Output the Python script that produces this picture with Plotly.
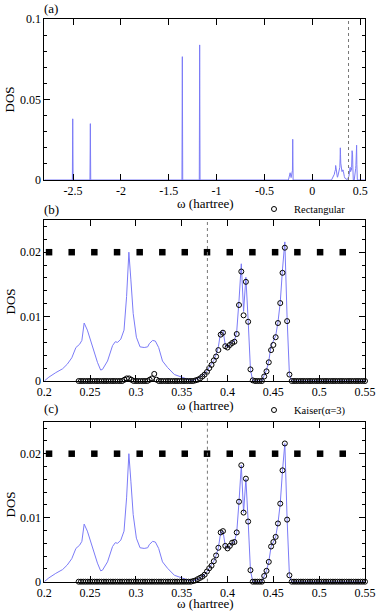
import plotly.graph_objects as go

# ---------- data ----------

# Fermi level (dotted line), hartree
fermi_level = 0.378

# panel (a): core-level spikes below the valence region
spike_omega = [-2.80, -2.507, -2.503, -2.499, -2.323, -2.319, -2.315,
               -1.362, -1.358, -1.354, -1.181, -1.177, -1.173,
               -0.250, -0.232, -0.222, -0.208, -0.205, -0.201]
spike_dos = [0.0, 0.0, 0.0380, 0.0, 0.0, 0.0350, 0.0,
             0.0, 0.0766, 0.0, 0.0, 0.0839, 0.0,
             0.0, 0.0045, 0.0015, 0.0060, 0.0253, 0.0]

# exact DOS (blue line), valence / conduction region
omega_exact = [0.2000, 0.2050, 0.2125, 0.2200, 0.2250, 0.2300, 0.2345, 0.2385, 0.2410, 0.2435,
               0.2470, 0.2525, 0.2580, 0.2615, 0.2635, 0.2690, 0.2745, 0.2775, 0.2800, 0.2835,
               0.2870, 0.2898, 0.2923, 0.2945, 0.2970, 0.3005, 0.3045, 0.3090, 0.3128, 0.3146,
               0.3182, 0.3212, 0.3248, 0.3290, 0.3345, 0.3420, 0.3495, 0.3550, 0.3600, 0.3625,
               0.3650, 0.3675, 0.3700, 0.3725, 0.3750, 0.3775, 0.3800, 0.3825, 0.3850, 0.3875,
               0.3900, 0.3925, 0.3950, 0.3975, 0.4000, 0.4025, 0.4050, 0.4075, 0.4100, 0.4125,
               0.4150, 0.4175, 0.4200, 0.4225, 0.4250, 0.4275, 0.4375, 0.4400, 0.4425, 0.4450,
               0.4475, 0.4500, 0.4525, 0.4550, 0.4575, 0.4600, 0.4625, 0.4650, 0.4675, 0.4700,
               0.5500]
dos_exact = [0.0000, 0.0006, 0.0013, 0.0019, 0.0026, 0.0036, 0.0052, 0.0057, 0.0063, 0.0090,
             0.0079, 0.0052, 0.0029, 0.0017, 0.0018, 0.0031, 0.0055, 0.0061, 0.0060, 0.0065,
             0.0079, 0.0131, 0.0200, 0.0157, 0.0105, 0.0068, 0.0053, 0.0052, 0.0053, 0.0058,
             0.0063, 0.0062, 0.0052, 0.0031, 0.0021, 0.0010, 0.0006, 0.0003, 0.0001, 0.0001,
             0.0002, 0.0004, 0.0006, 0.0008, 0.0011, 0.0016, 0.0021, 0.0025, 0.0032, 0.0041,
             0.0053, 0.0077, 0.0079, 0.0056, 0.0052, 0.0056, 0.0061, 0.0062, 0.0077, 0.0125,
             0.0182, 0.0108, 0.0161, 0.0094, 0.0018, 0.0000, 0.0000, 0.0009, 0.0017, 0.0031,
             0.0055, 0.0062, 0.0070, 0.0091, 0.0122, 0.0174, 0.0216, 0.0097, 0.0010, 0.0000,
             0.0000]

# sampling frequencies (black squares)
square_omega = [0.2052, 0.2299, 0.2546, 0.2794, 0.3041, 0.3288, 0.3533, 0.3776,
                0.4024, 0.4271, 0.4519, 0.4762, 0.5010, 0.5257, 0.5504]
square_dos = [0.02, 0.02, 0.02, 0.02, 0.02, 0.02, 0.02, 0.02,
              0.02, 0.02, 0.02, 0.02, 0.02, 0.02, 0.02]

# reconstructed DOS (open circles)
circ_omega = [0.2375, 0.2400, 0.2425, 0.2450, 0.2475, 0.2500, 0.2525, 0.2550, 0.2575, 0.2600,
              0.2625, 0.2650, 0.2675, 0.2700, 0.2725, 0.2750, 0.2775, 0.2800, 0.2825, 0.2850,
              0.2875, 0.2900, 0.2925, 0.2950, 0.2975, 0.3000, 0.3025, 0.3050, 0.3075, 0.3100,
              0.3125, 0.3150, 0.3175, 0.3200, 0.3225, 0.3250, 0.3275, 0.3300, 0.3325, 0.3350,
              0.3375, 0.3400, 0.3425, 0.3450, 0.3475, 0.3500, 0.3525, 0.3550, 0.3575, 0.3600,
              0.3625, 0.3650, 0.3675, 0.3700, 0.3725, 0.3750, 0.3775, 0.3800, 0.3825, 0.3850,
              0.3875, 0.3900, 0.3925, 0.3950, 0.3975, 0.4000, 0.4025, 0.4050, 0.4075, 0.4100,
              0.4125, 0.4150, 0.4175, 0.4200, 0.4225, 0.4250, 0.4275, 0.4300, 0.4325, 0.4350,
              0.4375, 0.4400, 0.4425, 0.4450, 0.4475, 0.4500, 0.4525, 0.4550, 0.4575, 0.4600,
              0.4625, 0.4650, 0.4675, 0.4700, 0.4725, 0.4750, 0.4775, 0.4800, 0.4825, 0.4850,
              0.4875, 0.4900, 0.4925, 0.4950, 0.4975, 0.5000, 0.5025, 0.5050, 0.5075, 0.5100,
              0.5125, 0.5150, 0.5175, 0.5200, 0.5225, 0.5250, 0.5275, 0.5300, 0.5325, 0.5350,
              0.5375, 0.5400, 0.5425, 0.5450, 0.5475, 0.5500]

dos_rect = [0, 0, 0, 0, 0, 0, 0, 0, 0, 0,
            0, 0, 0, 0, 0, 0, 0, 0, 0, 0,
            0.0002, 0.0004, 0.0004, 0.0002, 0, 0, 0, 0, 0, 0,
            0, 0.0002, 0.0004, 0.0011, 0.0002, 0, 0, 0, 0, 0,
            0, 0, 0, 0, 0, 0, 0, 0, 0, 0,
            0, 0.0001, 0.0002, 0.0004, 0.0007, 0.0010, 0.0014, 0.0020, 0.0025, 0.0032,
            0.0038, 0.0048, 0.0072, 0.0075, 0.0054, 0.0052, 0.0056, 0.0059, 0.0061, 0.0073,
            0.0118, 0.0170, 0.0102, 0.0154, 0.0092, 0.0018, 0.0001, 0, 0, 0,
            0, 0.0007, 0.0015, 0.0029, 0.0048, 0.0056, 0.0068, 0.0090, 0.0121, 0.0168,
            0.0207, 0.0093, 0.0010, 0, 0, 0, 0, 0, 0, 0,
            0, 0, 0, 0, 0, 0, 0, 0, 0, 0,
            0, 0, 0, 0, 0, 0, 0, 0, 0, 0,
            0, 0, 0, 0, 0, 0]

dos_kaiser = [0, 0, 0, 0, 0, 0, 0, 0, 0, 0,
              0, 0, 0, 0, 0, 0, 0, 0, 0, 0,
              0, 0, 0, 0, 0, 0, 0, 0, 0, 0,
              0, 0, 0, 0, 0, 0, 0, 0, 0, 0,
              0, 0, 0, 0, 0, 0, 0, 0, 0, 0,
              0.0001, 0.0002, 0.0004, 0.0006, 0.0008, 0.0011, 0.0016, 0.0021, 0.0025, 0.0032,
              0.0041, 0.0053, 0.0077, 0.0079, 0.0056, 0.0052, 0.0056, 0.0061, 0.0062, 0.0077,
              0.0125, 0.0182, 0.0108, 0.0161, 0.0094, 0.0018, 0, 0, 0, 0,
              0, 0.0009, 0.0017, 0.0031, 0.0055, 0.0062, 0.0070, 0.0091, 0.0122, 0.0174,
              0.0216, 0.0097, 0.0010, 0, 0, 0, 0, 0, 0, 0,
              0, 0, 0, 0, 0, 0, 0, 0, 0, 0,
              0, 0, 0, 0, 0, 0, 0, 0, 0, 0,
              0, 0, 0, 0, 0, 0]

# tick labels of panel (a) x axis (plain hyphen like the original)
ticks_a = [-2.5, -2, -1.5, -1, -0.5, 0, 0.5]
ticklabels_a = ["-2.5", "-2", "-1.5", "-1", "-0.5", "0", "0.5"]


# ---------- style ----------
FONT = "Liberation Serif"
BLUE = "#7b7bf7"
W, H = 379, 614

def px_x(p):
    return p / W

def px_y(p):
    return 1 - p / H

x_dom = [px_x(44.3), px_x(365)]


def axis(**kw):
    base = dict(showline=True, linecolor="black", linewidth=1, mirror="allticks",
                ticks="inside", ticklen=6, tickwidth=1, tickcolor="black",
                showgrid=False, zeroline=False, automargin=False,
                tickfont=dict(family=FONT, size=12, color="black"))
    base.update(kw)
    return base


fig = go.Figure()

# (a) full range
fig.add_trace(go.Scatter(x=spike_omega + omega_exact, y=spike_dos + dos_exact,
                         mode="lines", line=dict(color=BLUE, width=1),
                         xaxis="x", yaxis="y", showlegend=False))

# (b) and (c)
for xa, ya, dos, name, leg in [("x2", "y2", dos_rect, "Rectangular", "legend"),
                               ("x3", "y3", dos_kaiser, "Kaiser(\u03b1=3)", "legend2")]:
    fig.add_trace(go.Scatter(x=omega_exact, y=dos_exact, mode="lines",
                             line=dict(color=BLUE, width=1),
                             xaxis=xa, yaxis=ya, showlegend=False))
    fig.add_trace(go.Scatter(x=square_omega, y=square_dos, mode="markers",
                             marker=dict(symbol="square", size=6.5, color="black"),
                             cliponaxis=False, xaxis=xa, yaxis=ya, showlegend=False))
    fig.add_trace(go.Scatter(x=circ_omega, y=dos, mode="markers", name=name,
                             marker=dict(symbol="circle-open", size=5, color="black",
                                         line=dict(width=1)),
                             cliponaxis=False, xaxis=xa, yaxis=ya, legend=leg))

# Fermi level dotted lines
for xr, yr in [("x", "y"), ("x2", "y2"), ("x3", "y3")]:
    fig.add_shape(type="line", x0=fermi_level, x1=fermi_level, y0=0, y1=1,
                  xref=xr, yref=yr + " domain",
                  line=dict(color="#777777", width=1, dash="dot"))

fig.update_layout(
    width=W, height=H, margin=dict(l=0, r=0, t=0, b=0),
    paper_bgcolor="white", plot_bgcolor="white",
    font=dict(family=FONT, size=13, color="black"),
    xaxis=axis(domain=x_dom, range=[-2.8, 0.55], tickmode="array",
               tickvals=ticks_a, ticktext=ticklabels_a, anchor="y"),
    yaxis=axis(domain=[px_y(180), px_y(19)], range=[0, 0.1], tickvals=[0, 0.05, 0.1],
               ticktext=["0", "0.05", "0.1"], anchor="x",
               minor=dict(ticks="inside", ticklen=3, tick0=0, dtick=0.01, tickcolor="black")),
    xaxis2=axis(domain=x_dom, range=[0.2, 0.55], dtick=0.05, tick0=0.2, anchor="y2"),
    yaxis2=axis(domain=[px_y(381), px_y(220)], range=[0, 0.025], dtick=0.01, tick0=0,
                anchor="x2",
                minor=dict(ticks="inside", ticklen=3, tick0=0, dtick=0.002, tickcolor="black")),
    xaxis3=axis(domain=x_dom, range=[0.2, 0.55], dtick=0.05, tick0=0.2, anchor="y3"),
    yaxis3=axis(domain=[px_y(581.7), px_y(421.7)], range=[0, 0.025], dtick=0.01, tick0=0,
                anchor="x3",
                minor=dict(ticks="inside", ticklen=3, tick0=0, dtick=0.002, tickcolor="black")),
    legend=dict(x=px_x(254), y=px_y(209), xanchor="left", yanchor="middle",
                bgcolor="rgba(0,0,0,0)", font=dict(family=FONT, size=10.5)),
    legend2=dict(x=px_x(254), y=px_y(410), xanchor="left", yanchor="middle",
                 bgcolor="rgba(0,0,0,0)", font=dict(family=FONT, size=10.5)),
)

# panel labels and axis titles
for label, yc in [("(a)", 8), ("(b)", 210), ("(c)", 408)]:
    fig.add_annotation(text=label, x=px_x(42), y=px_y(yc), xref="paper", yref="paper",
                       xanchor="left", yanchor="middle", showarrow=False,
                       font=dict(family=FONT, size=13))
for yc in [203.5, 405, 603.5]:
    fig.add_annotation(text="\u03c9 (hartree)", x=px_x(205), y=px_y(yc),
                       xref="paper", yref="paper", xanchor="center", yanchor="middle",
                       showarrow=False, font=dict(family=FONT, size=13))
for yc in [100, 302, 505]:
    fig.add_annotation(text="DOS", x=px_x(9.5), y=px_y(yc), textangle=-90,
                       xref="paper", yref="paper", xanchor="center", yanchor="middle",
                       showarrow=False, font=dict(family=FONT, size=13))

# drop the browser's default 8px body margin so the figure fills the window
fig.write_html("out.html", config={"displayModeBar": False},
               post_script="document.body.style.margin='0';document.body.style.overflow='hidden';")
